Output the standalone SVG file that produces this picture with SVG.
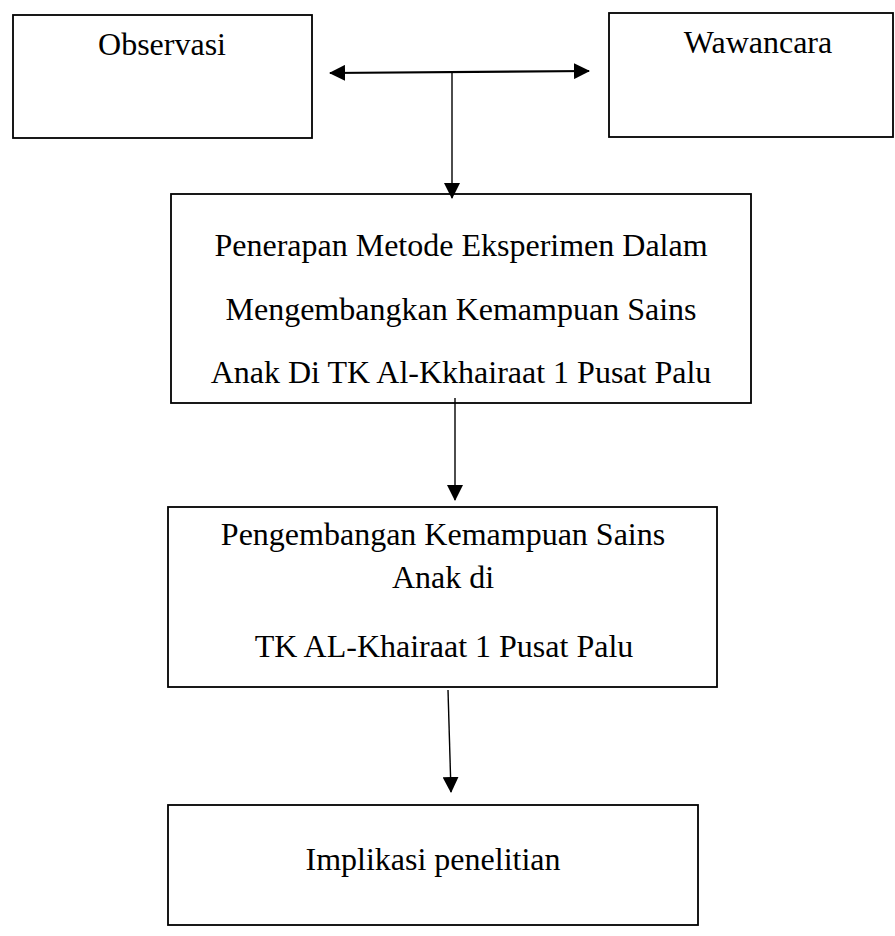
<svg xmlns="http://www.w3.org/2000/svg" width="895" height="936" viewBox="0 0 895 936">
<style>
.box{fill:#fff;stroke:#000;stroke-width:1.8}
.t{font-family:"Liberation Serif","Times New Roman",serif;font-size:32px;fill:#000;text-anchor:middle}
.c{stroke:#000;fill:none;stroke-width:1.4}
.c2{stroke:#000;fill:none;stroke-width:2.2}
</style>
<defs>
<marker id="ah" viewBox="0 0 16 16" refX="15" refY="8" markerWidth="16" markerHeight="16" markerUnits="userSpaceOnUse" orient="auto-start-reverse">
<path d="M0,0 L16,8 L0,16 Z" fill="#000"/>
</marker>
</defs>
<rect width="895" height="936" fill="#fff"/>
<g id="observasi">
<rect class="box" x="13" y="15" width="299" height="123"/>
<text class="t" x="162" y="55">Observasi</text>
</g>
<g id="wawancara">
<rect class="box" x="609" y="13" width="284" height="124"/>
<text class="t" x="758" y="53">Wawancara</text>
</g>
<g id="penerapan">
<rect class="box" x="171" y="194" width="580" height="209"/>
<text class="t" x="461" y="256">Penerapan Metode Eksperimen Dalam</text>
<text class="t" x="461" y="320">Mengembangkan Kemampuan Sains</text>
<text class="t" x="461" y="383">Anak Di TK Al-Kkhairaat 1 Pusat Palu</text>
</g>
<g id="pengembangan">
<rect class="box" x="168" y="507" width="549" height="180"/>
<text class="t" x="443" y="545">Pengembangan Kemampuan Sains</text>
<text class="t" x="443" y="588">Anak di</text>
<text class="t" x="444" y="657">TK AL-Khairaat 1 Pusat Palu</text>
</g>
<g id="implikasi">
<rect class="box" x="168" y="805" width="530" height="120"/>
<text class="t" x="433" y="870">Implikasi penelitian</text>
</g>
<g id="connectors">
<line class="c2" x1="330" y1="73" x2="589" y2="71" marker-start="url(#ah)" marker-end="url(#ah)"/>
<line class="c" x1="452" y1="72" x2="452" y2="198" marker-end="url(#ah)"/>
<line class="c" x1="455" y1="398" x2="455" y2="500" marker-end="url(#ah)"/>
<line class="c" x1="448" y1="690" x2="451" y2="792" marker-end="url(#ah)"/>
</g>
</svg>
